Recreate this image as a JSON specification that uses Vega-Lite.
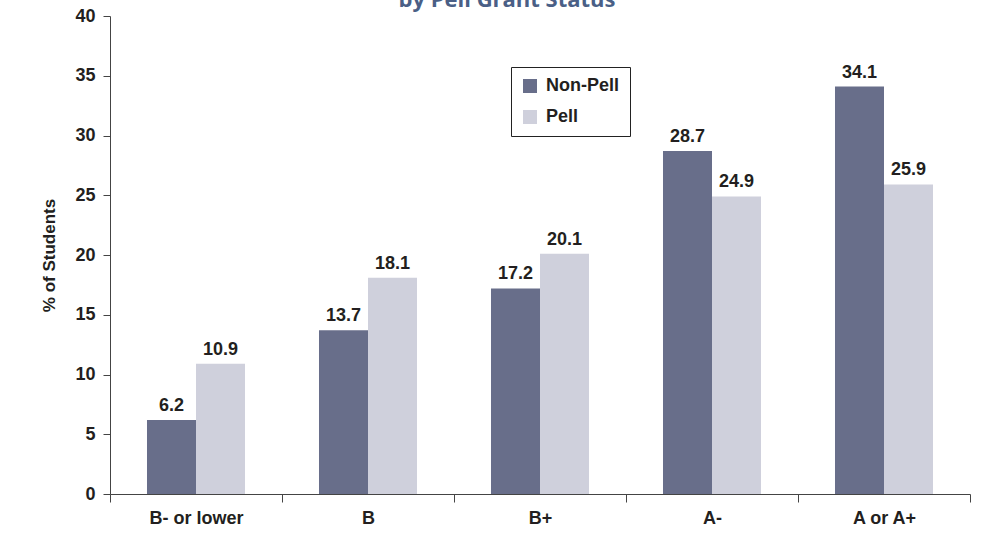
{
  "$schema": "https://vega.github.io/schema/vega-lite/v6.json",
  "autosize": "none",
  "width": 860,
  "height": 478,
  "padding": {"left": 110, "top": 16, "right": 38, "bottom": 60},
  "background": "white",
  "config": {"view": {"stroke": null}, "font": "Liberation Sans"},
  "title": {"text": "by Pell Grant Status", "font": "Open Sans", "fontSize": 22, "fontWeight": "bold", "color": "#4a5f86", "anchor": "middle", "baseline": "alphabetic", "offset": 0, "dy": 22, "dx": -33},
  "data": {"values": [
    {"grade": "B- or lower", "group": "Non-Pell", "pct": 6.2},
    {"grade": "B- or lower", "group": "Pell", "pct": 10.9},
    {"grade": "B", "group": "Non-Pell", "pct": 13.7},
    {"grade": "B", "group": "Pell", "pct": 18.1},
    {"grade": "B+", "group": "Non-Pell", "pct": 17.2},
    {"grade": "B+", "group": "Pell", "pct": 20.1},
    {"grade": "A-", "group": "Non-Pell", "pct": 28.7},
    {"grade": "A-", "group": "Pell", "pct": 24.9},
    {"grade": "A or A+", "group": "Non-Pell", "pct": 34.1},
    {"grade": "A or A+", "group": "Pell", "pct": 25.9}
  ]},
  "encoding": {
    "x": {"field": "grade", "type": "nominal", "sort": ["B- or lower", "B", "B+", "A-", "A or A+"],
      "scale": {"paddingInner": 0, "paddingOuter": 0},
      "axis": {"title": null, "labelAngle": 0, "labelFont": "Liberation Sans", "labelFontSize": 18, "labelFontWeight": "bold", "labelColor": "#231f20", "labelPadding": 7, "tickBand": "extent", "tickSize": 8, "tickColor": "#444", "domainColor": "#444", "domainWidth": 1.2}},
    "xOffset": {"field": "group", "type": "nominal", "scale": {"paddingInner": 0, "paddingOuter": 0.755}},
    "y": {"field": "pct", "type": "quantitative",
      "scale": {"domain": [0, 40], "nice": false},
      "axis": {"title": "% of Students", "titleFont": "Liberation Sans", "titleFontSize": 17, "titleFontWeight": "bold", "titleColor": "#231f20", "titlePadding": 16, "values": [0, 5, 10, 15, 20, 25, 30, 35, 40], "grid": false, "labelFont": "Liberation Sans", "labelFontSize": 18, "labelFontWeight": "bold", "labelColor": "#231f20", "labelPadding": 8, "tickSize": 7, "tickColor": "#444", "domainColor": "#444"}}
  },
  "layer": [
    {"mark": {"type": "bar"},
      "encoding": {"color": {"field": "group", "type": "nominal", "scale": {"domain": ["Non-Pell", "Pell"], "range": ["#686e8a", "#cfd0dc"]},
        "legend": {"title": null, "orient": "none", "legendX": 401, "legendY": 51, "symbolType": "square", "symbolSize": 196, "symbolStrokeWidth": 0, "labelFont": "Liberation Sans", "labelFontSize": 18, "labelFontWeight": "bold", "labelColor": "#231f20", "strokeColor": "#222", "padding": 10, "rowPadding": 13, "labelOffset": 7, "fillColor": "white", "cornerRadius": 0}}}},
    {"mark": {"type": "text", "baseline": "alphabetic", "dy": -9, "font": "Liberation Sans", "fontSize": 18, "fontWeight": "bold", "color": "#231f20"},
      "encoding": {"text": {"field": "pct", "type": "quantitative", "format": ".1f"}}}
  ]
}
